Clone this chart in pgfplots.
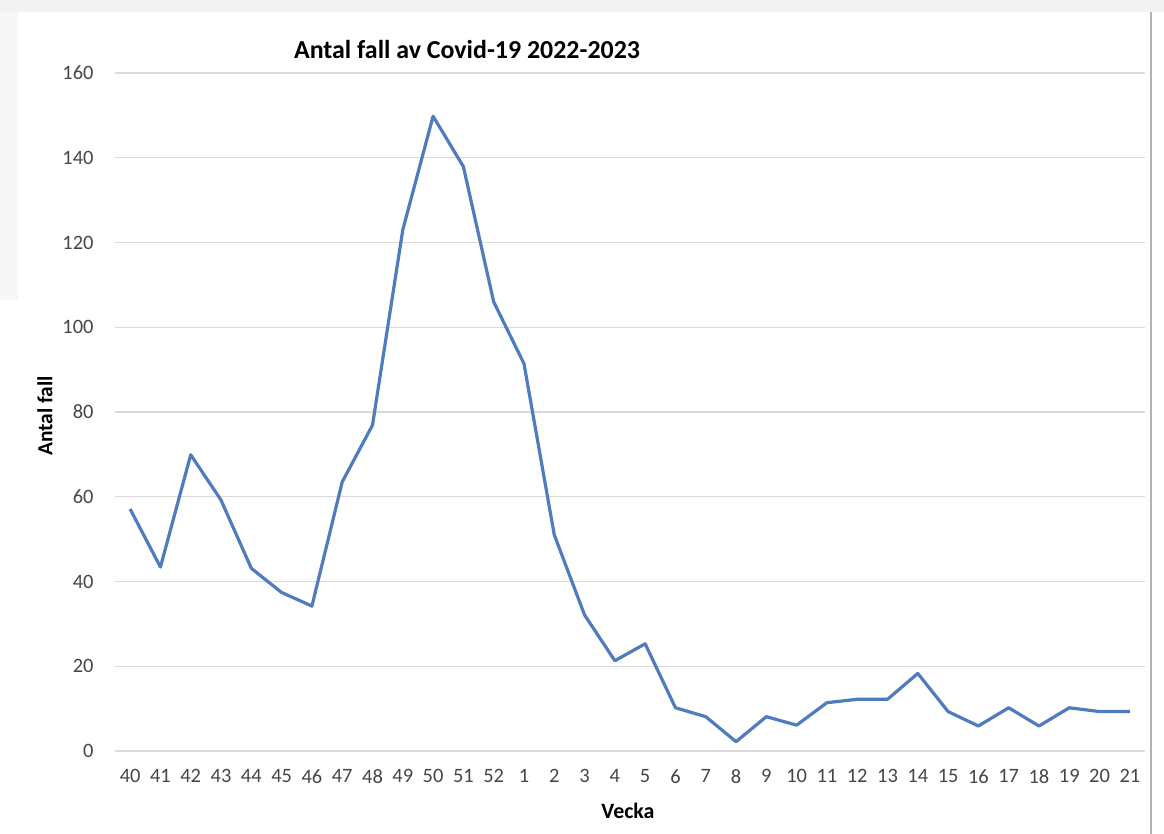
\documentclass[border=0pt]{standalone}
\usepackage{pgfplots}
\pgfplotsset{compat=1.18}
\usepackage{fontspec}
\setmainfont{Carlito}
\definecolor{lineblue}{RGB}{79,124,189}
\definecolor{gridgray}{RGB}{217,217,217}
\definecolor{ticktext}{RGB}{70,70,70}
\begin{document}
\begin{tikzpicture}[x=1bp,y=1bp]
\path[use as bounding box] (0,0) rectangle (1164,834);
\fill[white] (0,0) rectangle (1164,834);
\fill[gray!10] (0,822) rectangle (1164,834);
\fill[gray!6] (0,534) rectangle (18,822);
\draw[gray!60, line width=1.5bp] (1151,0) -- (1151,822);
\begin{axis}[
  at={(115bp,83bp)}, anchor=south west,
  scale only axis, width=1030bp, height=678bp,
  xmin=-0.5, xmax=33.5, ymin=0, ymax=160,
  ytick={0,20,...,160},
  xtick={0,...,33},
  xticklabels={40,41,42,43,44,45,46,47,48,49,50,51,52,1,2,3,4,5,6,7,8,9,10,11,12,13,14,15,16,17,18,19,20,21},
  ymajorgrids, grid style={gridgray, line width=1.2bp},
  axis line style={draw=none},
  major tick length=0pt,
  tick label style={font=\fontsize{20.5}{24}\selectfont, text=ticktext},
  /pgf/number format/assume math mode=true,
  yticklabel style={xshift=-18bp},
  xticklabel style={yshift=-15bp},
  clip=false,
]
\addplot[lineblue, line width=3.2bp, line join=round, mark=none] coordinates {
(0,57.1) (1,43.4) (2,69.9) (3,59.2) (4,43.1) (5,37.4) (6,34.2) (7,63.5) (8,76.9) (9,123)
(10,149.8) (11,137.9) (12,106) (13,91.4) (14,51) (15,32.1) (16,21.3) (17,25.3) (18,10.2) (19,8.1)
(20,2.2) (21,8.1) (22,6.1) (23,11.4) (24,12.2) (25,12.2) (26,18.3) (27,9.3) (28,5.9) (29,10.2)
(30,5.9) (31,10.2) (32,9.3) (33,9.3)
};
\end{axis}
\node[font=\fontsize{26}{30}\selectfont\bfseries] at (467,784) {Antal fall av Covid-19 2022-2023};
\node[font=\fontsize{21.5}{25}\selectfont\bfseries, rotate=90] at (45,418) {Antal fall};
\node[font=\fontsize{22}{26}\selectfont\bfseries] at (628,23) {Vecka};
\end{tikzpicture}
\end{document}
